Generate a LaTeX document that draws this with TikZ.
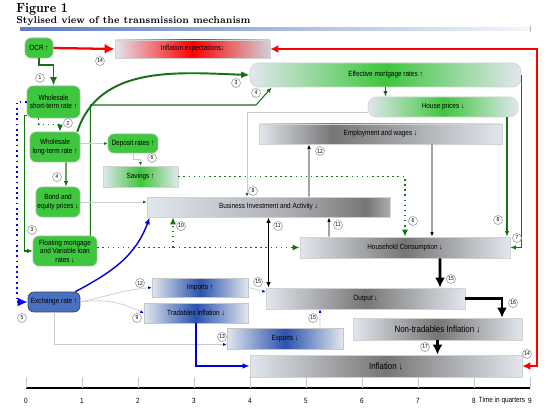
\documentclass[tikz,border=0pt]{standalone}
\usepackage{fontspec}
\newfontfamily\arialfont{Liberation Sans}[FakeStretch=0.85]
\newfontfamily\titlefont{Latin Modern Roman}[FakeStretch=0.86]
\usetikzlibrary{arrows.meta}
\usepackage{xcolor}

\definecolor{boxgreen}{RGB}{62,198,62}
\definecolor{linegreen}{RGB}{22,112,22}
\definecolor{greylite}{RGB}{226,231,238}
\definecolor{greymid}{RGB}{170,172,176}
\definecolor{greydark}{RGB}{118,118,118}
\definecolor{bluedark}{RGB}{42,82,172}
\definecolor{exblue}{RGB}{74,112,192}
\definecolor{thinline}{RGB}{196,204,212}
\definecolor{titleblue}{RGB}{92,124,196}

% shadings for the two grey bars whose dark part is off centre
\pgfdeclarehorizontalshading{bizshade}{100bp}{color(0bp)=(greylite); color(25bp)=(greylite); color(55bp)=(greymid); color(70bp)=(greydark); color(75bp)=(greymid); color(100bp)=(greymid)}
\pgfdeclarehorizontalshading{empshade}{100bp}{color(0bp)=(greylite); color(25bp)=(greylite); color(40bp)=(greydark); color(75bp)=(greylite); color(100bp)=(greylite)}

\begin{document}
\begin{tikzpicture}[x=0.02cm, y=-0.02cm,
    every node/.style={font=\arialfont\fontsize{4.3}{4.9}\selectfont, inner sep=0pt, align=center},
    gbox/.style={rounded corners=3.5pt, draw=linegreen!45, fill=boxgreen},
    gbar/.style={draw=gray!35, left color=greylite, right color=greylite, middle color=boxgreen},
    rbar/.style={draw=gray!35, left color=greylite, right color=greylite!80!gray, middle color=red},
    kbar/.style={draw=gray!35, left color=greylite, right color=greylite, middle color=greydark},
    bbar/.style={draw=gray!45, left color=greylite, right color=greylite, middle color=bluedark},
    num/.style={circle, draw=gray!70, fill=white, minimum size=0.18cm, font=\arialfont\fontsize{3.3}{3.3}\selectfont},
    garrow/.style={draw=linegreen, line width=1.1pt, -{Latex[length=0.17cm, width=0.14cm]}},
    gline/.style={draw=linegreen, line width=0.6pt, -{Latex[length=0.11cm, width=0.09cm]}},
    gdots/.style={draw=linegreen, line width=0.9pt, dotted, -{Latex[length=0.14cm, width=0.12cm]}},
    thin/.style={draw=thinline, line width=0.4pt, -{Latex[length=0.07cm, width=0.06cm]}},
    gtip/.style={thin, -{Latex[length=0.07cm, width=0.06cm, linegreen]}},
    btip/.style={thin, -{Latex[length=0.07cm, width=0.06cm, blue]}},
    kline/.style={draw=black, line width=0.5pt, -{Latex[length=0.09cm, width=0.07cm]}},
    kbig/.style={draw=black, line width=1.5pt, -{Latex[length=0.2cm, width=0.2cm]}},
    rarrow/.style={draw=red, line width=1.3pt},
    barrow/.style={draw=blue!85!black, line width=0.8pt, -{Latex[length=0.14cm, width=0.11cm]}}
  ]
  \useasboundingbox (0,0) rectangle (550,418);

  % Title
  \node[anchor=base west, font=\titlefont\fontsize{7.6}{8}\selectfont\bfseries] (fig) at (16,13) {Figure 1};
  \node[anchor=base west, font=\titlefont\fontsize{5.7}{8}\selectfont\bfseries] (title) at (16,24) {Stylised view of the transmission mechanism};
  \shade[left color=titleblue, right color=greylite!40] (20,28) rectangle (530,30.5);
  \draw[gray!60, line width=0.4pt] (530,26) -- (530,32);

  % Green nodes on the left
  \node[gbox, minimum width=0.56cm, minimum height=0.40cm] (ocr) at (39,48) {OCR ↑};
  \node[gbox, minimum width=1.06cm, minimum height=0.64cm] (wshort) at (53.5,102) {Wholesale\\short-term rate ↑};
  \node[gbox, minimum width=1.00cm, minimum height=0.60cm] (wlong) at (55,147) {Wholesale\\long-term rate ↑};
  \node[gbox, minimum width=0.88cm, minimum height=0.60cm] (bond) at (58,202) {Bond and\\equity prices ↓};
  \node[gbox, minimum width=1.28cm, minimum height=0.60cm] (fml) at (65,251) {Floating mortgage\\and Variable loan\\rates ↓};
  \node[gbox, minimum width=1.00cm, minimum height=0.38cm] (dep) at (133,143.5) {Deposit rates ↑};
  \node[gbox, draw=exblue!60!black, fill=exblue, minimum width=1.04cm, minimum height=0.40cm] (exr) at (54,302) {Exchange rate ↑};

  % Shaded bars
  \node[rbar, minimum width=3.10cm, minimum height=0.36cm] (infexp) at (192.5,49) {Inflation expectations↓};
  \node[gbar, rounded corners=5pt, minimum width=5.42cm, minimum height=0.48cm] (emr) at (385.5,75) {Effective mortgage rates ↑};
  \node[gbar, rounded corners=5pt, minimum width=3.00cm, minimum height=0.40cm] (hp) at (443,107) {House prices ↓};
  \node[draw=gray!35, shade, shading=empshade, minimum width=4.86cm, minimum height=0.40cm] (emp) at (380.5,134) {Employment and wages ↓};
  \node[gbar, minimum width=1.50cm, minimum height=0.42cm] (sav) at (140.5,176.5) {Savings ↑};
  \node[draw=gray!35, shade, shading=bizshade, minimum width=4.86cm, minimum height=0.40cm] (bia) at (268.5,207) {Business Investment and Activity ↓};
  \node[kbar, minimum width=4.20cm, minimum height=0.42cm] (hc) at (405,247.5) {Household Consumption ↓};
  \node[bbar, minimum width=1.92cm, minimum height=0.38cm] (imp) at (200,287.5) {Imports ↑};
  \node[kbar, minimum width=3.98cm, minimum height=0.42cm] (out) at (365.5,298.5) {Output ↓};
  \node[bbar, minimum width=2.08cm, minimum height=0.40cm] (tri) at (196,313) {Tradables Inflation ↓};
  \node[bbar, minimum width=2.32cm, minimum height=0.42cm] (exp) at (285,338.5) {Exports ↓};
  \node[kbar, minimum width=3.38cm, minimum height=0.44cm, font=\arialfont\fontsize{5.3}{6}\selectfont] (nti) at (437.5,329) {Non-tradables Inflation ↓};
  \node[kbar, minimum width=5.44cm, minimum height=0.44cm, font=\arialfont\fontsize{5.3}{6}\selectfont] (inf) at (386,366) {Inflation ↓};

  % Bend points
  \coordinate (kink) at (256,105);
  \coordinate (redtop) at (537,49);
  \coordinate (redbot) at (537,366);
  \coordinate (dotsplit) at (173,247.5);
  \coordinate (hpdrop) at ([xshift=1.28cm]hp.south);

  % Red loop
  \draw[rarrow, -{Latex[length=0.2cm, width=0.2cm]}] (ocr.east) -- (infexp.west);
  \draw[rarrow, {Latex[length=0.16cm, width=0.16cm]}-{Latex[length=0.16cm, width=0.16cm]}] (infexp.east) -- (redtop) -- (redbot) -- (inf.east);

  % Interest rate channel
  \draw[garrow] (ocr.south) -- ++(0,7) -| (wshort.north);
  \draw[gdots] ([xshift=-0.3cm]wshort.south) -- ++(0,6) -| ([xshift=0.1cm]wlong.north);
  \draw[garrow] ([xshift=-0.06cm]wlong.north east) to[out=72, in=178] (emr.west);
  \draw[gline] ([xshift=-0.14cm]fml.north east) |- (kink) -- ([xshift=0.44cm]emr.south west);
  \draw[gline] ([yshift=0.06cm]wshort.south west) -- ++(-2,0) |- (fml.west);
  \draw[gline] ([xshift=0.22cm]wlong.south) -- ([xshift=0.16cm]bond.north);
  \draw[gtip] (wlong.east |- dep.west) -- (dep.west);
  \draw[gtip] (dep.south) -- ++(0,6) -| (sav.north);
  \draw[gtip] (bond.east) -- (bond.east -| bia.west);
  \draw[gdots] (sav.east) -| (hc.north);
  \draw[gdots] (fml.east |- hc.west) -- (hc.west);
  \draw[gdots] (dotsplit) -- (dotsplit |- bia.south);

  % Housing
  \draw[gline] (emr.south) -- (emr.south |- hp.north);
  \draw[gline] (emr.east) |- (hc.east);
  \draw[gline] (hpdrop) -- (hpdrop |- hc.north);
  \draw[gtip] ([yshift=0.1cm]hp.south west) -| ([xshift=-0.43cm]bia.north);

  % Activity and employment
  \draw[kline] ([xshift=0.81cm]bia.north) -- ([xshift=-1.43cm]emp.south);
  \draw[kline] ([xshift=1.03cm]emp.south) -- ([xshift=0.54cm]hc.north);
  \draw[kline] ([xshift=-1.52cm]hc.north) -- ([xshift=1.21cm]bia.south);
  \draw[kline, line width=0.8pt, {Latex[length=0.11cm, width=0.09cm]}-{Latex[length=0.11cm, width=0.09cm]}] (bia.south) -- (bia.south |- out.north);
  \draw[kbig] ([xshift=0.7cm]hc.south) -- ([xshift=1.49cm]out.north);
  \draw[kbig] (out.east) -| ([xshift=1.29cm]nti.north);
  \draw[kbig] (nti.south) -- (nti.south |- inf.north);

  % Exchange rate channel
  \draw[blue, line width=1pt, dotted, -{Latex[length=0.2cm, width=0.18cm]}] (wshort.west) -- ++(-10,0) |- (exr.west);
  \draw[barrow] ([xshift=-0.1cm]exr.north east) to[out=28, in=250] ([xshift=0.06cm]bia.south west);
  \draw[btip] (exr.east) to[out=12, in=185] (imp.west);
  \draw[btip] (exr.east) to[out=8, in=155] (tri.west);
  \draw[btip] (exr.south) |- ([yshift=-0.12cm]exp.west);
  \draw[btip] (imp.east) -- ([yshift=0.13cm]out.west);
  \draw[btip] ([xshift=0.7cm]exp.north) -- ([xshift=-0.91cm]out.south);
  \draw[barrow] (tri.south) |- (inf.west);

  % Numbered circles
  \foreach \x/\y/\t [count=\i] in {100/61/14, 40/78/1, 236/83/3, 256/93/4, 68/123/2,
      152/158/6, 57/177/4, 253/191/8, 320/151/12, 32/230/3, 181/226/10, 278/226/11,
      338/225/11, 413/221/6, 498/220/8, 517/238/7, 22/318/5, 140/283/12, 137/318/9,
      258/282/15, 451/279/15, 513/303/16, 313/318/15, 222/337/13, 425/347/17, 527/354/14}
    \node[num] (c\i) at (\x,\y) {\t};

  % Time axis
  \draw[black, line width=0.7pt] (26,388) -- (530,388);
  \foreach \i in {0,...,9} {
    \draw[gray!45, line width=0.4pt] (26+56*\i,377) -- (26+56*\i,388);
    \node (t\i) at (26+56*\i,401) {\i};
  }
  \node (tq) at (502,401) {Time in quarters};
\end{tikzpicture}
\end{document}
